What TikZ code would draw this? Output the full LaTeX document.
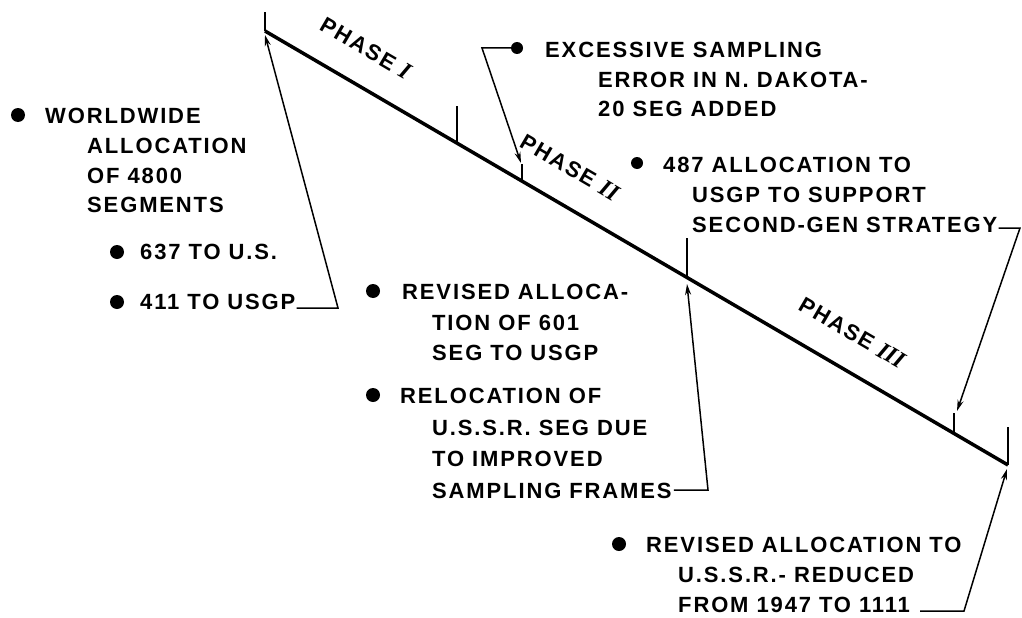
\documentclass[tikz,border=0pt]{standalone}
\usepackage{fontspec}
\setmainfont{Liberation Sans}
\newfontfamily\labfont{Liberation Sans}[LetterSpace=8.5]
\newfontfamily\numfont{Liberation Serif}
\usetikzlibrary{arrows.meta,calc}
\tikzset{
  txt/.style={anchor=base west, inner sep=0pt, font=\labfont\bfseries\fontsize{22}{26}\selectfont},
  dot/.style={circle, fill=black, inner sep=0pt, minimum size=14pt},
  sdot/.style={circle, fill=black, inner sep=0pt, minimum size=12pt},
  mainln/.style={line width=3.5pt},
  tickln/.style={line width=2pt},
  conn/.style={line width=1.5pt, -{Stealth[length=11pt,width=6pt]}},
  phase/.style={anchor=base, inner sep=0pt, rotate=-30.3, font=\labfont\bfseries\fontsize{22}{26}\selectfont}
}
\begin{document}
\begin{tikzpicture}[x=1pt,y=-1pt]
\useasboundingbox (0,0) rectangle (1022,618);
% main time line
\coordinate (S) at (265,31);
\coordinate (E) at (1008,465);
\draw[mainln] (S) -- (E);
% ticks
\coordinate (t0top) at (265,12);
\coordinate (t1) at (457,143.2);   \coordinate (t1top) at (457,106);
\coordinate (t2) at (522,181.1);   \coordinate (t2top) at (522,164);
\coordinate (t3) at (687,277.5);   \coordinate (t3top) at (687,238);
\coordinate (t4) at (954,433.4);   \coordinate (t4top) at (954,413);
\coordinate (t5top) at (1008,427);
\draw[tickln] (S) -- (t0top);
\draw[tickln] (t1) -- (t1top);
\draw[tickln] (t2) -- (t2top);
\draw[tickln] (t3) -- (t3top);
\draw[tickln] (t4) -- (t4top);
\draw[tickln] (E) -- (t5top);
% phase labels
\node[phase] (p1) at (361.9,55.0) {PHASE {\numfont\bfseries\itshape\fontsize{24}{26}\selectfont I}};
\node[phase] (p2) at (565.8,174.1) {PHASE {\numfont\bfseries\itshape\fontsize{24}{26}\selectfont II}};
\node[phase] (p3) at (848.5,339.2) {PHASE {\numfont\bfseries\itshape\fontsize{24}{26}\selectfont III}};
% block A
\node[dot] (ad) at (18,115) {};
\node[txt] (a1) at (45,123) {WORLDWIDE};
\node[txt] (a2) at (87,153) {ALLOCATION};
\node[txt] (a3) at (87,183) {OF 4800};
\node[txt] (a4) at (87,212) {SEGMENTS};
% block B
\node[dot] (bd1) at (117,252) {};
\node[txt] (b1) at (140,259) {637 TO U.S.};
\node[dot] (bd2) at (117,302) {};
\node[txt] (b2) at (140,309) {411 TO USGP};
% block C
\node[sdot] (cd) at (517,48) {};
\node[txt] (c1) at (545,58) {EXCESSIVE SAMPLING};
\node[txt] (c2) at (598,87) {ERROR IN N. DAKOTA-};
\node[txt] (c3) at (598,116) {20 SEG ADDED};
% block D
\node[sdot] (dd) at (637,163) {};
\node[txt] (d1) at (663,172) {487 ALLOCATION TO};
\node[txt] (d2) at (692,202) {USGP TO SUPPORT};
\node[txt] (d3) at (692,232) {SECOND-GEN STRATEGY};
% block E
\node[dot] (ed1) at (373,291) {};
\node[txt] (e1) at (402,299) {REVISED ALLOCA-};
\node[txt] (e2) at (432,330) {TION OF 601};
\node[txt] (e3) at (432,360) {SEG TO USGP};
\node[dot] (ed2) at (373,395) {};
\node[txt] (e4) at (400,403) {RELOCATION OF};
\node[txt] (e5) at (432,435) {U.S.S.R. SEG DUE};
\node[txt] (e6) at (432,466) {TO IMPROVED};
\node[txt] (e7) at (432,498) {SAMPLING FRAMES};
% block F
\node[dot] (fd) at (619,544) {};
\node[txt] (f1) at (646,552) {REVISED ALLOCATION TO};
\node[txt] (f2) at (678,582) {U.S.S.R.- REDUCED};
\node[txt] (f3) at (678,612) {FROM 1947 TO 1111};
% connectors
\coordinate (h1) at (338,308);
\coordinate (tipA) at (265,35);
\draw[conn] ([xshift=1pt]b2.base east |- h1) -- (h1) -- (tipA);
\coordinate (h2) at (482,48);
\coordinate (tipB) at (521,163);
\draw[conn] (cd.west) -- (h2) -- (tipB);
\coordinate (h3) at (708,490);
\coordinate (tipC) at (687,284);
\draw[conn] ([xshift=2pt]e7.base east |- h3) -- (h3) -- (tipC);
\coordinate (h4) at (1020,228);
\coordinate (tipD) at (957,411);
\draw[conn] ([xshift=1pt]d3.base east |- h4) -- (h4) -- (tipD);
\coordinate (h5) at (964,611);
\coordinate (tipE) at (1007,469);
\draw[conn] ([xshift=10pt]f3.base east |- h5) -- (h5) -- (tipE);
\end{tikzpicture}
\end{document}
